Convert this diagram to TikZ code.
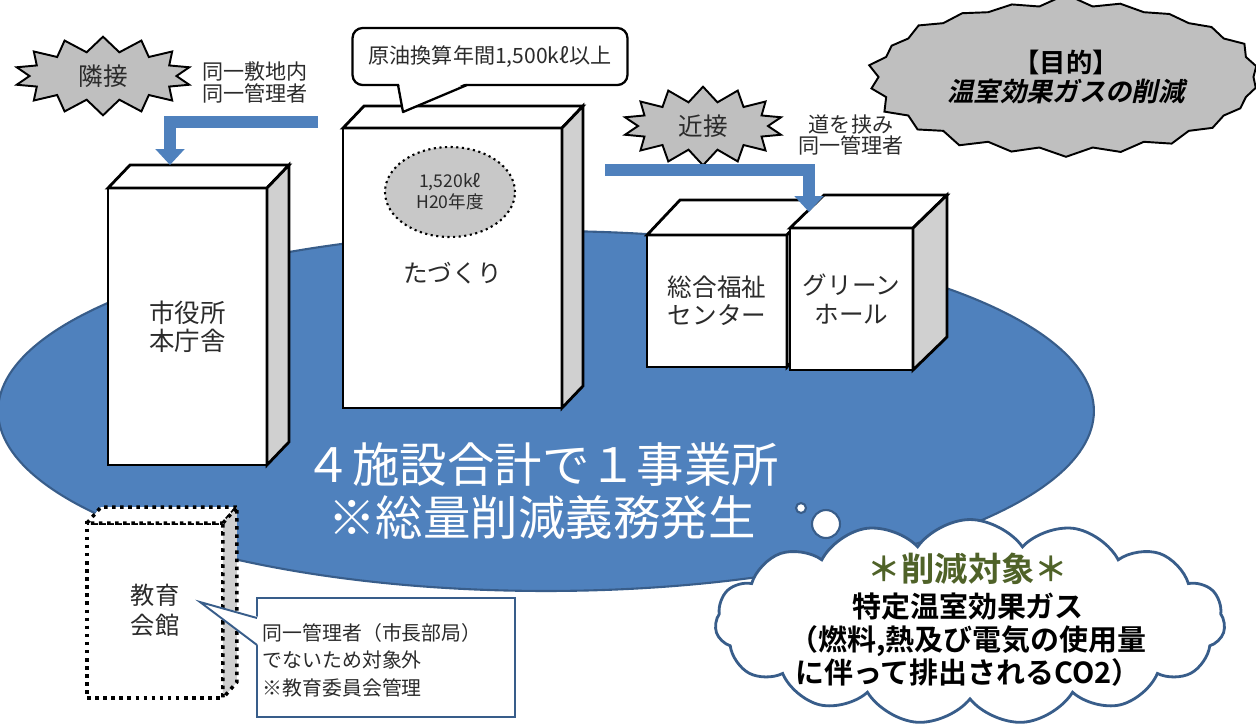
\documentclass[tikz,border=0pt]{standalone}
\usepackage{fontspec}
\setmainfont{Noto Sans CJK JP}[BoldFont=* Bold]
\newfontfamily\slantjp{Noto Sans CJK JP}[UprightFont=* Bold, FakeSlant=0.22]
\usetikzlibrary{arrows.meta,positioning,shapes.geometric,shapes.symbols}
\definecolor{siteblue}{HTML}{4F81BD}
\definecolor{siteedge}{HTML}{385D8A}
\definecolor{burstgray}{HTML}{BFBFBF}
\definecolor{sidegray}{HTML}{D0D0D0}
\definecolor{dotgray}{HTML}{C8C8C8}
\definecolor{txt}{HTML}{2B2B2B}
\definecolor{olivetxt}{HTML}{4F6228}
\tikzset{
  facade/.style={draw, fill=white, line width=1.6pt, outer sep=0pt, inner sep=0pt, align=center, text=txt, font=\fontsize{14.5}{16}\selectfont},
  topface/.style={draw, fill=white, line width=1.6pt},
  sideface/.style={draw, fill=sidegray, line width=1.6pt},
  dotline/.style={line width=2pt, dash pattern=on 2pt off 2.6pt},
  burst/.style={starburst, draw, fill=burstgray, line width=1.1pt, starburst points=14, starburst point height=0.3cm, random starburst=0, text=txt, font=\fontsize{14}{16}\selectfont},
  remark/.style={text=txt, align=center, font=\fontsize{12}{12.5}\selectfont},
  callbox/.style={draw, fill=white, rounded corners=0.2cm, line width=1.3pt, outer sep=0pt, text=txt, font=\fontsize{12}{14}\selectfont},
  notebox/.style={draw=siteedge, fill=white, line width=1.1pt, outer sep=0pt},
  site/.style={ellipse, draw=siteedge, fill=siteblue, line width=1.2pt, inner sep=0pt},
  link/.style={draw=siteblue, line width=6.5pt, -{Triangle[width=16pt,length=9pt]}},
  bubble/.style={draw=siteedge, fill=white, line width=1.2pt}
}

\begin{document}
\begin{tikzpicture}[x=0.02cm, y=-0.02cm]
  \useasboundingbox (0,0) rectangle (1256,724);

  % one site made of four buildings
  \node[site, minimum width=21.92cm, minimum height=7.2cm] (site) at (546,411) {};
  \node[text=white, align=center, font=\fontsize{27}{30}\selectfont] (duty) at (542,491) {４施設合計で１事業所\\※総量削減義務発生};

  % buildings
  \node[facade, minimum width=3.18cm, minimum height=5.54cm] (hall) at (187.5,326.5) {市役所\\本庁舎};
  \draw[topface] (hall.north west) -- ++(22,-23) -- ([shift={(22,-23)}]hall.north east) -- (hall.north east) -- cycle;
  \draw[sideface] (hall.north east) -- ++(22,-23) -- ([shift={(22,-23)}]hall.south east) -- (hall.south east) -- cycle;

  \node[facade, minimum width=4.38cm, minimum height=5.6cm, font=\fontsize{14}{16}\selectfont] (tazukuri) at (452.5,268) {\\[1pt]たづくり};
  \draw[topface] (tazukuri.north west) -- ++(21,-22) -- ([shift={(21,-22)}]tazukuri.north east) -- (tazukuri.north east) -- cycle;
  \draw[sideface] (tazukuri.north east) -- ++(21,-22) -- ([shift={(21,-22)}]tazukuri.south east) -- (tazukuri.south east) -- cycle;
  \node[ellipse, draw, dotted, line width=1.2pt, fill=dotgray, minimum width=2.6cm, minimum height=1.8cm, align=center, text=txt, font=\fontsize{10}{12}\selectfont] (fuel) at (450,192) {1,520kℓ\\H20年度};

  \node[facade, minimum width=2.8cm, minimum height=2.64cm, font=\fontsize{14}{16}\selectfont] (welfare) at (717,301) {総合福祉\\センター};
  \draw[topface] (welfare.north west) -- ++(33,-35) -- ([shift={(33,-35)}]welfare.north east) -- (welfare.north east) -- cycle;
  \draw[sideface] (welfare.north east) -- ++(33,-35) -- ([shift={(33,-35)}]welfare.south east) -- (welfare.south east) -- cycle;

  \node[facade, minimum width=2.46cm, minimum height=2.84cm, font=\fontsize{14}{16}\selectfont] (green) at (851.5,299) {グリーン\\ホール};
  \draw[topface] (green.north west) -- ++(34,-33) -- ([shift={(34,-33)}]green.north east) -- (green.north east) -- cycle;
  \draw[sideface] (green.north east) -- ++(34,-33) -- ([shift={(34,-33)}]green.south east) -- (green.south east) -- cycle;

  \node[facade, dotline, minimum width=2.72cm, minimum height=3.5cm, font=\fontsize{13.8}{17}\selectfont] (kyoiku) at (155,610.5) {教育\\会館};
  \draw[topface, dotline] (kyoiku.north west) -- ++(14,-16) -- ([shift={(14,-16)}]kyoiku.north east) -- (kyoiku.north east) -- cycle;
  \draw[sideface, dotline] (kyoiku.north east) -- ++(14,-16) -- ([shift={(14,-16)}]kyoiku.south east) -- (kyoiku.south east) -- cycle;

  % neighbour links
  \node[burst, minimum width=3.54cm, minimum height=1.56cm] (rinsetsu) at (103,76) {隣接};
  \node[remark] (rinsetsunote) at (255,82) {同一敷地内\\同一管理者};
  \coordinate (hallfeed) at (318,122);
  \coordinate (halltip) at (170,165);
  \draw[link] (hallfeed) -| (halltip);

  \node[burst, minimum width=3.2cm, minimum height=1.56cm] (kinsetsu) at (703,126) {近接};
  \node[remark] (kinsetsunote) at (851,135) {道を挟み\\同一管理者};
  \coordinate (roadfeed) at (605,170);
  \coordinate (greentip) at (809,212);
  \draw[link] (roadfeed) -| (greentip);

  % goal
  \node[burst, starburst points=22, starburst point height=0.25cm, random starburst=7, minimum width=8cm, minimum height=3.35cm, align=center, text=black, font=\fontsize{15}{16}\selectfont] (goal) at (1066,77) {{\bfseries【目的】}\\{\slantjp 温室効果ガスの削減}};

  % threshold callout
  \node[callbox, minimum width=5.5cm, minimum height=1.14cm] (limit) at (490,56.5) {原油換算年間1,500kℓ以上};
  \coordinate (limittip) at (403,112);
  \fill[white] ([xshift=0.93cm, yshift=0.04cm]limit.south west) -- (limittip) -- ([xshift=2.27cm, yshift=0.04cm]limit.south west) -- cycle;
  \draw[line width=1.3pt, line join=round] ([xshift=0.91cm]limit.south west) -- (limittip) -- ([xshift=2.29cm]limit.south west);

  % excluded building
  \node[notebox, minimum width=5.16cm, minimum height=2.38cm] (exclusion) at (386,657.5) {};
  \node[right=0.04cm of exclusion.west, yshift=-0.05cm, inner sep=2pt, align=left, text=txt, font=\fontsize{11.3}{15.6}\selectfont] (exclusiontext) {同一管理者（市長部局）\\でないため対象外\\※教育委員会管理};
  \coordinate (exclusiontip) at (200,602);
  \fill[white] ([xshift=0.04cm, yshift=-0.38cm]exclusion.north west) -- (exclusiontip) -- ([xshift=0.04cm, yshift=-0.96cm]exclusion.north west) -- cycle;
  \draw[siteedge, line width=1.1pt] ([yshift=-0.4cm]exclusion.north west) -- (exclusiontip) -- ([yshift=-0.94cm]exclusion.north west);

  % reduction target
  \draw[bubble] (801,508) circle[radius=0.1cm];
  \draw[bubble] (826,524) circle[radius=0.28cm];
  \node[cloud, draw=siteedge, fill=white, line width=1.6pt, cloud puffs=15, cloud puff arc=110, cloud ignores aspect, minimum width=10.2cm, minimum height=4.1cm] (target) at (970,622) {};
  \node[align=center, text=black, font=\bfseries\fontsize{16.5}{19}\selectfont] (targettext) at (968,620) {{\color{olivetxt}\fontsize{19}{20}\selectfont ＊削減対象＊}\\[1pt]特定温室効果ガス\\（燃料,熱及び電気の使用量\\に伴って排出されるCO2）};
\end{tikzpicture}
\end{document}
